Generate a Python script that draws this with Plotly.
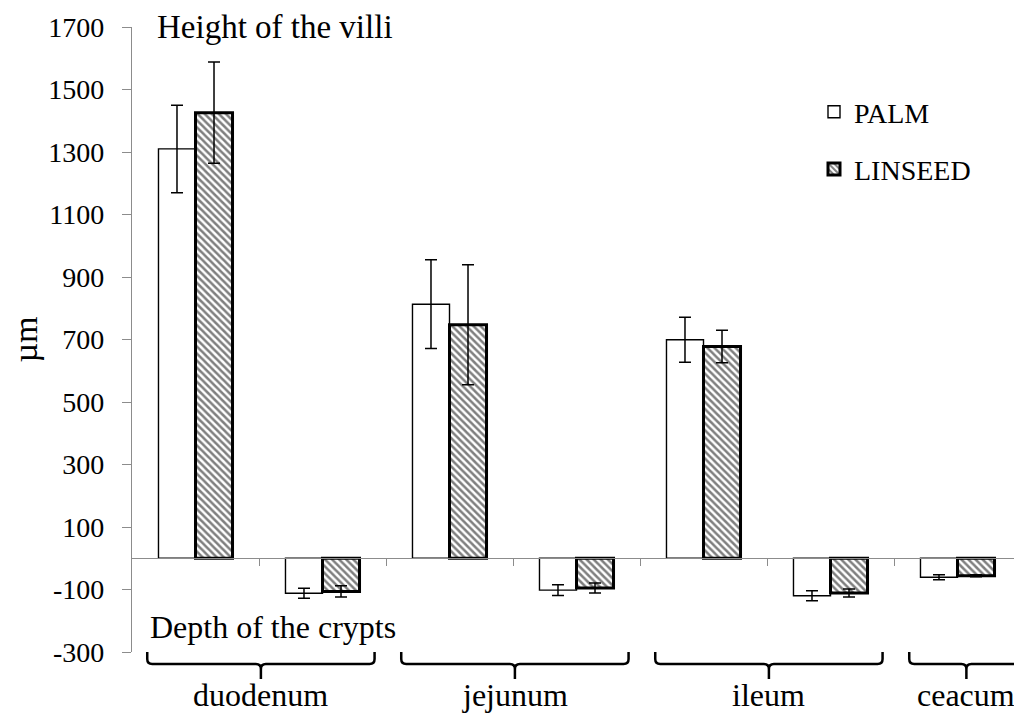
import numpy as np
import plotly.graph_objects as go

# ---------------- data ----------------
categories = ["duodenum villi", "duodenum crypts", "jejunum villi", "jejunum crypts",
              "ileum villi", "ileum crypts", "ceacum crypts"]
palm_values = [1310, -112, 813, -102, 699, -120, -61]
palm_sd = [140, 16, 142, 17, 72, 16, 8]
linseed_values = [1426, -106, 747, -95, 678, -111, -56]
linseed_sd = [162, 18, 192, 16, 52, 13, 3]

y_ticks = [-300, -100, 100, 300, 500, 700, 900, 1100, 1300, 1500, 1700]
group_labels = ["duodenum", "jejunum", "ileum", "ceacum"]
group_members = [[0, 1], [2, 3], [4, 5], [6]]

FONT = "Liberation Serif"
x = np.arange(len(categories))

fig = go.Figure()
fig.add_trace(go.Bar(
    x=x, y=palm_values, name="PALM", legendgroup="a",
    hovertext=categories,
    marker=dict(color="white", line=dict(color="black", width=1.4)),
    error_y=dict(type="data", array=palm_sd, visible=True, color="black",
                 thickness=1.5, width=6),
))
fig.add_trace(go.Bar(
    x=x, y=linseed_values, name="LINSEED", legendgroup="b",
    hovertext=categories,
    marker=dict(color="white", line=dict(color="black", width=3),
                pattern=dict(shape="\\", fgcolor="black", bgcolor="white",
                             size=5, solidity=0.5)),
    error_y=dict(type="data", array=linseed_sd, visible=True, color="black",
                 thickness=1.5, width=6),
))

# layout geometry
W, H = 1014, 714
ML, MR, MT, MB = 132, 0, 27, 62
pw = W - ML - MR
ph = H - MT - MB
cat_px = 127.0
xmax = -0.5 + pw / cat_px
ymin, ymax = -300, 1700


def py2paper(py):
    return (H - MB - py) / ph


def px2paper(px):
    return (px - ML) / pw


zero_pos = (0 - ymin) / (ymax - ymin)

fig.update_layout(
    width=W, height=H,
    margin=dict(l=ML, r=MR, t=MT, b=MB, pad=0),
    paper_bgcolor="white", plot_bgcolor="white",
    barmode="group", bargap=0.417, bargroupgap=0,
    font=dict(family=FONT, color="black"),
    showlegend=True,
    legend=dict(x=px2paper(814), y=py2paper(87), xanchor="left", yanchor="top",
                font=dict(family=FONT, size=28, color="black"),
                bgcolor="rgba(0,0,0,0)", tracegroupgap=18, traceorder="grouped"),
    xaxis=dict(range=[-0.5, xmax], anchor="free", position=zero_pos,
               showline=True, linecolor="#8c8c8c", linewidth=1.3,
               tickmode="array", tickvals=[i + 0.5 for i in range(len(categories))],
               ticks="outside", ticklen=7, tickcolor="#8c8c8c", tickwidth=1.3,
               showticklabels=False, showgrid=False, zeroline=False),
    yaxis=dict(range=[ymin, ymax], tickmode="array", tickvals=y_ticks,
               ticktext=[str(v) for v in y_ticks],
               showline=True, linecolor="#8c8c8c", linewidth=1.3,
               ticks="outside", ticklen=9, tickcolor="#8c8c8c", tickwidth=1.3,
               tickfont=dict(family=FONT, size=28, color="black"),
               ticklabelstandoff=12,
               showgrid=False, zeroline=False),
)

annotations = [
    dict(text="Height of the villi", x=px2paper(155), y=py2paper(27),
         xanchor="left", yanchor="middle", font=dict(size=33)),
    dict(text="Depth of the crypts", x=px2paper(148), y=py2paper(627),
         xanchor="left", yanchor="middle", font=dict(size=32)),
    dict(text="µm", x=px2paper(25), y=0.5, textangle=-90,
         xanchor="center", yanchor="middle", font=dict(size=34)),
]

# curly brackets under groups
top_y = py2paper(652)
mid_y = py2paper(664)
bot_y = py2paper(679)
r_x = 5 / cat_px
r_y = 5 / ph
shapes = []
for label, members in zip(group_labels, group_members):
    first, last = members[0], members[-1]
    left = first - 0.38
    if len(members) > 1:
        right = last + 0.41
        center = (left + right) / 2
    else:
        center = first + 0.07
        right = center + 0.46
    path = (f"M{left},{top_y} L{left},{mid_y + r_y} Q{left},{mid_y} {left + r_x},{mid_y} "
            f"L{center - r_x},{mid_y} Q{center},{mid_y} {center},{mid_y - r_y} L{center},{bot_y} "
            f"M{center},{mid_y - r_y} Q{center},{mid_y} {center + r_x},{mid_y} "
            f"L{right - r_x},{mid_y} Q{right},{mid_y} {right},{mid_y + r_y} L{right},{top_y}")
    shapes.append(dict(type="path", path=path, xref="x", yref="paper",
                       line=dict(color="black", width=2.5)))
    annotations.append(dict(text=label, x=center, xref="x", y=py2paper(695), yref="paper",
                            xanchor="center", yanchor="middle", showarrow=False,
                            font=dict(size=32)))

for a in annotations:
    a.setdefault("xref", "paper")
    a.setdefault("yref", "paper")
    a["showarrow"] = False
    a["font"] = dict(family=FONT, color="black", **a["font"])

fig.update_layout(annotations=annotations, shapes=shapes)

fig.write_html("out.html", config={"displayModeBar": False},
               post_script="document.body.style.margin='0';document.body.style.overflow='hidden';")
